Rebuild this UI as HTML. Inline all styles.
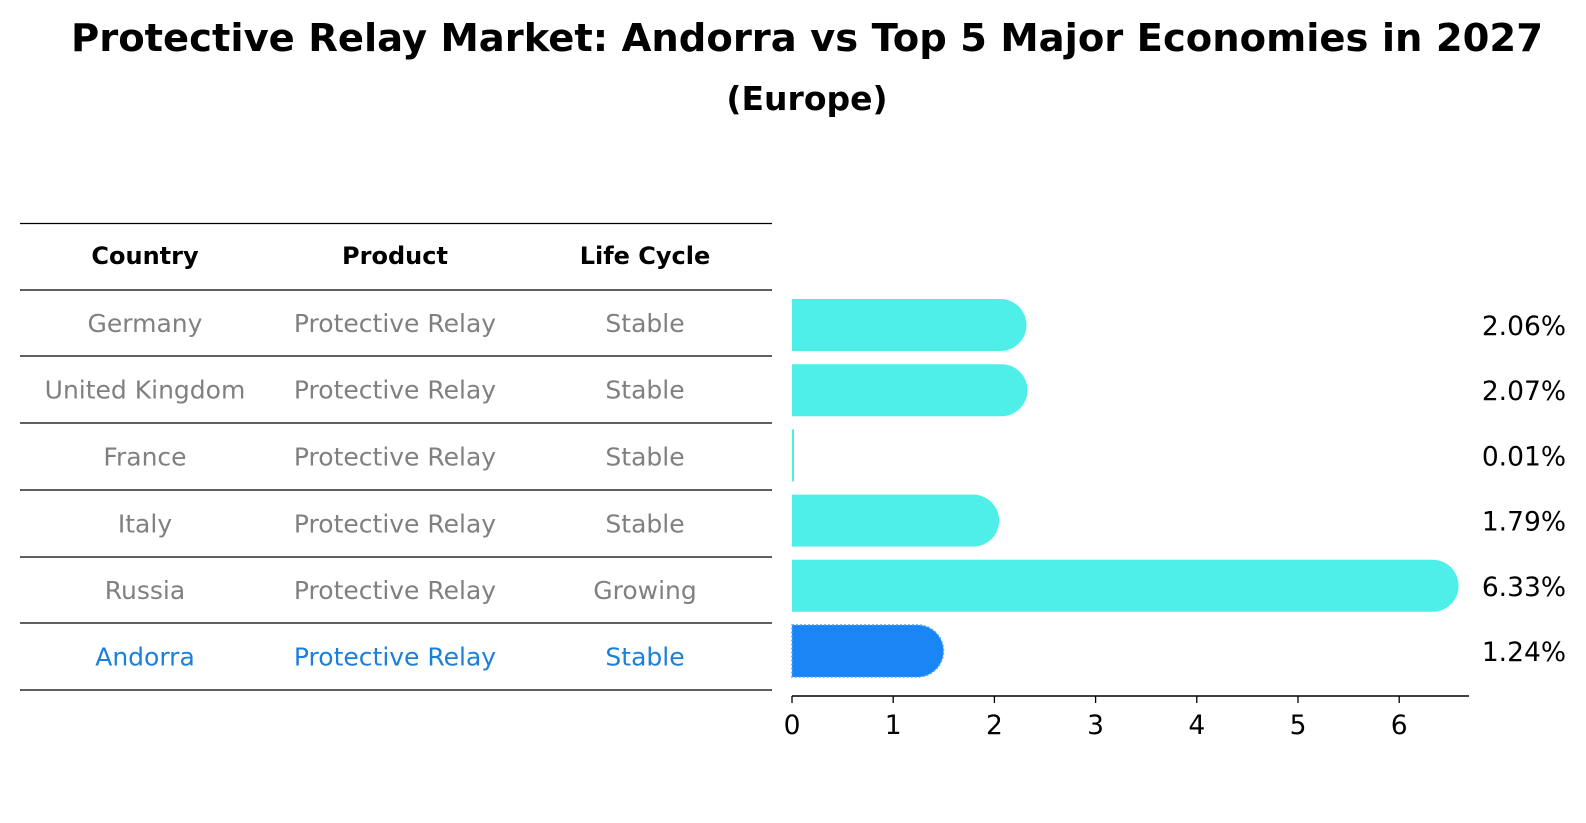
<!DOCTYPE html>
<html><head><meta charset="utf-8"><style>
body{margin:0;background:#fff;}
svg{display:block;font-family:"DejaVu Sans","Liberation Sans",sans-serif;}
</style></head><body>
<svg width="1586" height="823" viewBox="0 0 1586 823">
<text x="807" y="51" text-anchor="middle" font-size="38.5" font-weight="bold">Protective Relay Market: Andorra vs Top 5 Major Economies in 2027</text>
<text x="807" y="110" text-anchor="middle" font-size="33" font-weight="bold">(Europe)</text>
<g id="table"></g>
<g id="bars"></g>
</svg>
<script>
const countries=["Germany","United Kingdom","France","Italy","Russia","Andorra"];
const products=["Protective Relay","Protective Relay","Protective Relay","Protective Relay","Protective Relay","Protective Relay"];
const lifeCycles=["Stable","Stable","Stable","Stable","Growing","Stable"];
const values=[2.06,2.07,0.01,1.79,6.33,1.24];
const valueLabels=["2.06%","2.07%","0.01%","1.79%","6.33%","1.24%"];
const ticks=[0,1,2,3,4,5,6];

const NS="http://www.w3.org/2000/svg";
function mk(tag,attrs,parent,text){const e=document.createElementNS(NS,tag);for(const k in attrs)e.setAttribute(k,attrs[k]);if(text!==undefined)e.textContent=text;parent.appendChild(e);return e;}
const table=document.getElementById('table');
const bars=document.getElementById('bars');
const lineYs=[223.5,290,356,423,490,557,623,690];
lineYs.forEach((y,i)=>{const l=mk('line',{x1:20,x2:772,y1:y,y2:y,stroke:'#000','stroke-width':1.2},table);

});
const colX=[145,395,645];
["Country","Product","Life Cycle"].forEach((h,i)=>{const t=mk('text',{x:colX[i],y:264,'text-anchor':'middle','font-size':24,'font-weight':'bold'},table,h);

});
countries.forEach((c,i)=>{const y=(lineYs[i+1]+lineYs[i+2])/2+9;const col=i===5?'#1a80dc':'#808080';
[c,products[i],lifeCycles[i]].forEach((v,j)=>{const t=mk('text',{x:colX[j],y:y,'text-anchor':'middle','font-size':25,fill:col},table,v);

});});
const x0=792,unit=101.2,axisY=696,barH=52;
const xs=v=>x0+v*unit;
const yc=i=>325+i*65.2;
const ax=mk('line',{x1:x0,x2:1469,y1:axisY,y2:axisY,stroke:'#000','stroke-width':1.5},bars);


ticks.forEach(t=>{const tl=mk('line',{x1:xs(t),x2:xs(t),y1:axisY,y2:axisY+7,stroke:'#000','stroke-width':1.3},bars);


const tx=mk('text',{x:xs(t),y:axisY+38,'text-anchor':'middle','font-size':26.5},bars,String(t));

});
values.forEach((v,i)=>{const r=barH/2;const top=yc(i)-r;const xe=xs(v);let d;
if(v<0.1){d=`M${x0},${top}H${xe+1}V${top+barH}H${x0}Z`;}
else{d=`M${x0},${top}H${xe}A${r},${r} 0 0 1 ${xe},${top+barH}H${x0}Z`;}
const attrs={d:d,fill:i===5?'#1a85f5':'#4eeee9'};
if(i===5){attrs.stroke='#4aa3ff';attrs['stroke-width']=1.5;attrs['stroke-dasharray']='2 2';}
const p=mk('path',attrs,bars);


const t=mk('text',{x:1566,y:yc(i)+10,'text-anchor':'end','font-size':26.5},bars,valueLabels[i]);

});
</script>
</body></html>
